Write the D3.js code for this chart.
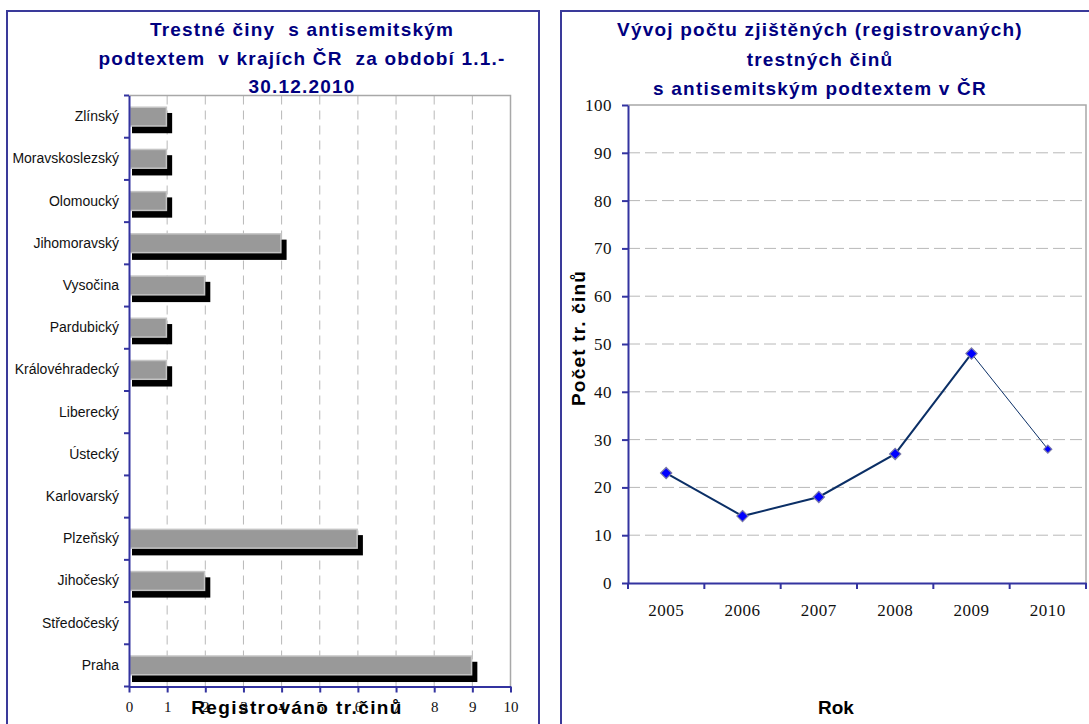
<!DOCTYPE html>
<html><head><meta charset="utf-8">
<script src="https://cdn.jsdelivr.net/npm/d3@7"></script>
<style>
html,body{margin:0;padding:0;background:#fff;}
svg{display:block;}
text{white-space:pre;}
</style></head>
<body>
<svg id="c" width="1089" height="724"></svg>
<script>
// ---- data ----
const regions = ["Zlínský","Moravskoslezský","Olomoucký","Jihomoravský","Vysočina","Pardubický","Královéhradecký","Liberecký","Ústecký","Karlovarský","Plzeňský","Jihočeský","Středočeský","Praha"];
const regionCounts = [1,1,1,4,2,1,1,0,0,0,6,2,0,9];
const barTicks = [0,1,2,3,4,5,6,7,8,9,10];
const years = ["2005","2006","2007","2008","2009","2010"];
const yearCounts = [23,14,18,27,48,28];
const lineTicks = [0,10,20,30,40,50,60,70,80,90,100];
const leftTitle = ["Trestné činy  s antisemitským","podtextem  v krajích ČR  za období 1.1.-","30.12.2010"];
const rightTitle = ["Vývoj počtu zjištěných (registrovaných)","trestných činů","s antisemitským podtextem v ČR"];
const leftXTitle = "Registrováno tr.činů";
const rightXTitle = "Rok";
const rightYTitle = "Počet tr. činů";

// ---- styles ----
const SANS = "'Liberation Sans', Arial, sans-serif";
const SERIF = "'Liberation Serif', 'Times New Roman', serif";
const AXIS = "#3333a0";
const NAVY = "#000080";
const GRID = "#b8b8b8";

const svg = d3.select("#c");

// panel borders
svg.append("rect").attr("x",7).attr("y",11).attr("width",532).attr("height",800)
  .attr("fill","none").attr("stroke","#3a3a9a").attr("stroke-width",2);
svg.append("rect").attr("x",561).attr("y",11).attr("width",600).attr("height",800)
  .attr("fill","none").attr("stroke","#3a3a9a").attr("stroke-width",2);

function title(lines, cx, y0, dy){
  const t = svg.append("text").attr("text-anchor","middle")
    .attr("font-family",SANS).attr("font-weight","bold").attr("font-size",19)
    .attr("letter-spacing","1.2px").attr("fill",NAVY);
  lines.forEach((l,i)=>t.append("tspan").attr("x",cx).attr("y",y0+i*dy).text(l));
}

// ================= LEFT: bar chart =================
const xL = d3.scaleLinear().domain([0,10]).range([129,510.5]);
const yL = d3.scaleBand().domain(regions).range([95.5,686.5]).paddingInner(0.52).paddingOuter(0.26);

const gL = svg.append("g");
// vertical grid (dashed) 1..9
gL.selectAll("line.grid").data(barTicks.filter(d=>d>0 && d<10)).join("line")
  .attr("x1",d=>xL(d)).attr("x2",d=>xL(d)).attr("y1",95.5).attr("y2",686.5)
  .attr("stroke",GRID).attr("stroke-width",1).attr("stroke-dasharray","9,6");
// plot border top & right
gL.append("path").attr("d",`M${xL(0)},95.5H${xL(10)}V686.5`).attr("fill","none")
  .attr("stroke","#a8a8a8").attr("stroke-width",1.5);

const data = regions.map((r,i)=>({r, v:regionCounts[i]})).filter(d=>d.v>0);
// shadows
gL.selectAll("rect.sh").data(data).join("rect")
  .attr("x",xL(0)+3).attr("y",d=>yL(d.r)+6.5)
  .attr("width",d=>xL(d.v)-xL(0)+2).attr("height",yL.bandwidth())
  .attr("fill","#000");
// bars
gL.selectAll("rect.bar").data(data).join("rect")
  .attr("x",xL(0)+0.75).attr("y",d=>yL(d.r)+0.75)
  .attr("width",d=>xL(d.v)-xL(0)-1.5).attr("height",yL.bandwidth()-1.5)
  .attr("fill","#999999").attr("stroke","#c4c4c4").attr("stroke-width",1.5);

// x axis
const axXL = gL.append("g").attr("transform","translate(0,686.5)")
  .call(d3.axisBottom(xL).tickValues(barTicks).tickSize(6).tickSizeOuter(0).tickFormat(d3.format("d")));
axXL.select(".domain").attr("stroke",AXIS).attr("stroke-width",2);
axXL.selectAll(".tick line").attr("stroke",AXIS).attr("stroke-width",2);
axXL.selectAll(".tick text").attr("font-family",SERIF).attr("font-size",15).attr("fill","#111")
  .attr("y",15).attr("dy","0.71em");

// y axis
const axYL = gL.append("g").attr("transform",`translate(${xL(0)},0)`)
  .call(d3.axisLeft(yL).tickSize(0).tickPadding(10));
axYL.select(".domain").attr("stroke",AXIS).attr("stroke-width",2);
axYL.selectAll(".tick text").attr("font-family",SANS).attr("font-size",14).attr("fill","#111");
// boundary ticks
const bounds = regions.map(r=>yL(r)-yL.step()*yL.paddingInner()/2).concat([686.5]);
gL.selectAll("line.bt").data(bounds).join("line")
  .attr("x1",xL(0)-5).attr("x2",xL(0)).attr("y1",d=>d).attr("y2",d=>d)
  .attr("stroke",AXIS).attr("stroke-width",2);

svg.append("text").attr("x",297).attr("y",714).attr("text-anchor","middle")
  .attr("font-family",SANS).attr("font-weight","bold").attr("font-size",19)
  .attr("letter-spacing","1.4px").attr("fill","#000").text(leftXTitle);

title(leftTitle, 302, 36, 28.5);

// ================= RIGHT: line chart =================
const xR = d3.scaleBand().domain(years).range([628,1086]);
const yR = d3.scaleLinear().domain([0,100]).range([583,105]);
const gR = svg.append("g");

gR.selectAll("line.grid").data(lineTicks.filter(d=>d>0 && d<100)).join("line")
  .attr("x1",628).attr("x2",1086).attr("y1",d=>yR(d)).attr("y2",d=>yR(d))
  .attr("stroke",GRID).attr("stroke-width",1).attr("stroke-dasharray","12,5");
gR.append("path").attr("d",`M628,${yR(100)}H1086V${yR(0)}`).attr("fill","none")
  .attr("stroke","#a8a8a8").attr("stroke-width",1.5);

const axYR = gR.append("g").attr("transform","translate(628,0)")
  .call(d3.axisLeft(yR).tickValues(lineTicks).tickSize(6).tickSizeOuter(0).tickPadding(10));
axYR.select(".domain").attr("stroke",AXIS).attr("stroke-width",2);
axYR.selectAll(".tick line").attr("stroke",AXIS).attr("stroke-width",2);
axYR.selectAll(".tick text").attr("font-family",SERIF).attr("font-size",17).attr("fill","#111")
  .attr("letter-spacing","0.5px");

const axXR = gR.append("g").attr("transform",`translate(0,${yR(0)})`)
  .call(d3.axisBottom(xR).tickSize(0).tickSizeOuter(0));
axXR.select(".domain").attr("stroke",AXIS).attr("stroke-width",2);
axXR.selectAll(".tick text").attr("font-family",SERIF).attr("font-size",17).attr("fill","#111")
  .attr("letter-spacing","0.5px").attr("y",21).attr("dy","0.71em");
const xb = years.map(y=>xR(y)).concat([1086]);
gR.selectAll("line.xt").data(xb).join("line")
  .attr("x1",d=>d).attr("x2",d=>d).attr("y1",yR(0)).attr("y2",yR(0)+6)
  .attr("stroke",AXIS).attr("stroke-width",2);

const pts = years.map((y,i)=>({x:xR(y)+xR.bandwidth()/2, y:yR(yearCounts[i])}));
const line = d3.line().x(d=>d.x).y(d=>d.y);
gR.append("path").attr("d",line(pts.slice(0,5))).attr("fill","none")
  .attr("stroke","#0b2f66").attr("stroke-width",2);
gR.append("path").attr("d",line(pts.slice(4))).attr("fill","none")
  .attr("stroke","#0b2f66").attr("stroke-width",1);
const diamond = d3.symbol().type(d3.symbolDiamond2);
gR.selectAll("path.m").data(pts).join("path")
  .attr("transform",d=>`translate(${d.x},${d.y})`)
  .attr("d",(d,i)=>diamond.size(i===pts.length-1?40:80)())
  .attr("fill","#0000ff").attr("stroke","#7a7aa8").attr("stroke-width",1.2);

svg.append("text").attr("x",836).attr("y",714).attr("text-anchor","middle")
  .attr("font-family",SANS).attr("font-weight","bold").attr("font-size",19)
  .attr("fill","#000").text(rightXTitle);
svg.append("text").attr("transform","translate(585,338) rotate(-90)").attr("text-anchor","middle")
  .attr("font-family",SANS).attr("font-weight","bold").attr("font-size",19)
  .attr("letter-spacing","1.2px").attr("fill","#000").text(rightYTitle);

title(rightTitle, 820, 36, 29.5);
</script>
</body></html>
